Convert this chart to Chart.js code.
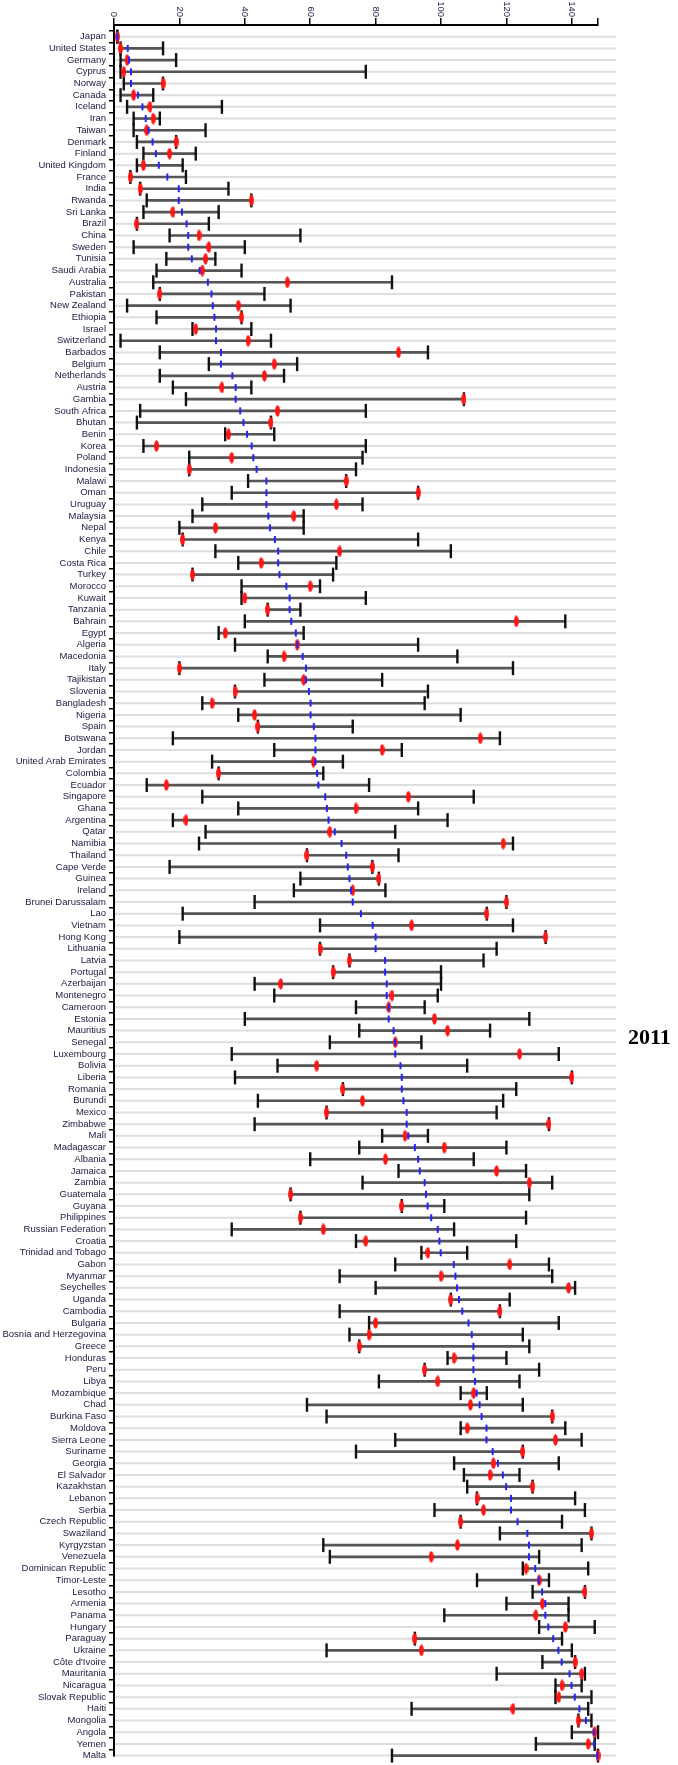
<!DOCTYPE html>
<html>
<head>
<meta charset="utf-8">
<script src="https://cdn.jsdelivr.net/npm/chart.js@4"></script>
<style>
  html, body { margin: 0; padding: 0; background: #fff; }
  #wrap { position: relative; width: 678px; height: 1765px; }
</style>
</head>
<body>
<div id="wrap"><canvas id="rankChart"></canvas></div>
<script>
// negara, urut dari atas ke bawah
const countries = ['Japan','United States','Germany','Cyprus','Norway','Canada','Iceland','Iran','Taiwan','Denmark',
  'Finland','United Kingdom','France','India','Rwanda','Sri Lanka','Brazil','China','Sweden','Tunisia',
  'Saudi Arabia','Australia','Pakistan','New Zealand','Ethiopia','Israel','Switzerland','Barbados','Belgium','Netherlands',
  'Austria','Gambia','South Africa','Bhutan','Benin','Korea','Poland','Indonesia','Malawi','Oman',
  'Uruguay','Malaysia','Nepal','Kenya','Chile','Costa Rica','Turkey','Morocco','Kuwait','Tanzania',
  'Bahrain','Egypt','Algeria','Macedonia','Italy','Tajikistan','Slovenia','Bangladesh','Nigeria','Spain',
  'Botswana','Jordan','United Arab Emirates','Colombia','Ecuador','Singapore','Ghana','Argentina','Qatar','Namibia',
  'Thailand','Cape Verde','Guinea','Ireland','Brunei Darussalam','Lao','Vietnam','Hong Kong','Lithuania','Latvia',
  'Portugal','Azerbaijan','Montenegro','Cameroon','Estonia','Mauritius','Senegal','Luxembourg','Bolivia','Liberia',
  'Romania','Burundi','Mexico','Zimbabwe','Mali','Madagascar','Albania','Jamaica','Zambia','Guatemala',
  'Guyana','Philippines','Russian Federation','Croatia','Trinidad and Tobago','Gabon','Myanmar','Seychelles','Uganda','Cambodia',
  'Bulgaria','Bosnia and Herzegovina','Greece','Honduras','Peru','Libya','Mozambique','Chad','Burkina Faso','Moldova',
  'Sierra Leone','Suriname','Georgia','El Salvador','Kazakhstan','Lebanon','Serbia','Czech Republic','Swaziland','Kyrgyzstan',
  'Venezuela','Dominican Republic','Timor-Leste','Lesotho','Armenia','Panama','Hungary','Paraguay','Ukraine','C\u00f4te d\'Ivoire',
  'Mauritania','Nicaragua','Slovak Republic','Haiti','Mongolia','Angola','Yemen','Malta'];

// peringkat terbaik (ujung kiri)
const rankMin = [1,2,2,2,3,2,4,6,6,7, 9,7,5,8,10,9,7,17,6,16, 13,12,14,4,13,24,2,14,29,14,
  18,22,8,7,34,9,23,23,41,36, 27,24,20,21,31,38,24,39,39,47, 40,32,37,47,20,46,37,27,38,44,
  18,49,30,32,10,27,38,18,28,26, 59,17,57,55,43,21,63,20,63,72, 67,43,49,74,40,75,66,36,50,37,
  70,44,65,43,82,75,60,87,76,54, 88,57,36,74,94,86,69,80,103,69, 78,72,75,102,95,81,106,59,65,106,
  86,74,104,107,108,111,98,106,118,64, 66,125,111,128,120,101,130,92,65,131, 117,135,135,91,142,140,129,85];

// peringkat terburuk (ujung kanan)
const rankMax = [1,15,19,77,15,12,33,14,28,19, 25,21,22,35,42,32,29,57,40,31, 39,85,46,54,39,42,48,96,56,52,
  42,107,77,48,49,77,76,74,71,93, 76,58,58,93,103,68,67,63,77,57, 138,58,93,105,122,82,96,95,106,73,
  118,88,70,64,78,110,93,102,86,122, 87,79,81,83,120,114,122,132,117,113, 100,100,99,95,127,115,94,136,108,140,
  123,119,117,133,96,120,110,126,134,127, 101,126,104,123,108,133,134,141,121,118, 136,125,127,120,130,124,114,125,134,138,
  143,125,136,124,128,141,144,137,146,143, 130,145,133,144,139,139,147,137,140,141, 144,143,146,145,146,148,147,148];

// peringkat 2011 (merah)
const rank2011 = [1,2,4,3,15,6,11,12,10,19, 17,9,5,8,42,18,7,26,29,28, 27,53,14,38,39,25,41,87,49,46,
  33,107,50,48,35,13,36,23,71,93, 68,55,31,21,69,45,24,60,40,47, 123,34,56,52,20,58,37,30,43,44,
  112,82,61,32,16,90,74,22,66,119, 59,79,81,73,120,114,91,132,63,72, 67,51,85,84,98,102,86,124,62,140,
  70,76,65,133,89,101,83,117,127,54, 88,57,64,77,96,121,100,139,103,118, 80,78,75,104,95,99,110,109,134,108,
  135,125,116,115,128,111,113,106,146,105, 97,126,130,144,131,129,138,92,94,141, 143,137,136,122,142,147,145,148];

// rata-rata peringkat (biru)
const rankMean = [1,4.2,4.6,5.2,5.2,7.3,8.7,9.7,10.6,11.8, 12.8,13.7,16.3,19.8,19.8,20.8,22.2,22.7,22.7,23.8,
  26.2,28.7,29.8,30.2,30.7,31.2,31.2,32.7,32.7,36.2, 37.2,37.2,38.6,39.6,40.7,42.1,42.6,43.6,46.6,46.6,
  46.6,47.2,47.7,49.2,50.2,50.2,50.6,52.7,53.7,53.7, 54.2,55.6,56.1,57.7,58.7,58.7,59.6,60.1,60.1,61.1,
  61.6,61.6,61.6,62.1,62.5,64.6,65.1,65.6,67.5,69.6, 71,71.5,72,72.5,73,75.5,79.1,80,80,82.9,
  82.9,83.4,83.4,84,84,85.5,86,86,87.6,88, 88,88.5,89.5,89.5,90,92,93,93.5,95,95.4,
  95.9,97,99,99.5,99.9,103.9,104.4,104.9,105.5,106.5, 108.4,109.4,109.9,109.9,109.9,110.4,110.9,111.8,112.4,113.9,
  113.9,115.8,117.4,118.9,119.9,121.4,121.4,123.4,126.4,126.9, 126.9,128.8,129.9,130.9,131.9,131.9,132.8,134.3,135.9,136.9,
  139.3,139.9,140.9,142.3,144.3,146.8,146.8,147.8];

const xTicks = [0, 20, 40, 60, 80, 100, 120, 140];
const xMax = 148;
const yearLabel = '2011';

// titik elips merah
const redDot = document.createElement('canvas');
redDot.width = 5; redDot.height = 12;
(function () {
  const c = redDot.getContext('2d');
  c.fillStyle = '#ff1414';
  c.beginPath();
  c.ellipse(2.5, 6, 2.4, 5.8, 0, 0, Math.PI * 2);
  c.fill();
})();

const pts = arr => arr.map((v, i) => ({ x: v, y: countries[i] }));

// garis baris abu-abu + label sumbu x + tahun
const decor = {
  id: 'decor',
  beforeDatasetsDraw(chart) {
    const { ctx, chartArea, scales } = chart;
    ctx.save();
    ctx.strokeStyle = '#dedede';
    ctx.lineWidth = 2;
    countries.forEach((c, i) => {
      const y = scales.y.getPixelForValue(i + 1);
      ctx.beginPath();
      ctx.moveTo(chartArea.left + 1, y);
      ctx.lineTo(616, y);
      ctx.stroke();
    });
    ctx.restore();
  },
  afterDraw(chart) {
    const { ctx, scales } = chart;
    ctx.save();
    ctx.fillStyle = '#1a1a40';
    ctx.font = '9.5px "Liberation Sans", Arial, sans-serif';
    ctx.textAlign = 'right';
    ctx.textBaseline = 'middle';
    xTicks.forEach(v => {
      const x = scales.x.getPixelForValue(v);
      ctx.save();
      ctx.translate(x, 17);
      ctx.rotate(Math.PI / 2);
      ctx.fillText(String(v), 0, 0);
      ctx.restore();
    });
    ctx.fillStyle = '#000';
    ctx.font = 'bold 22px "Liberation Serif", "Times New Roman", serif';
    ctx.textAlign = 'left';
    ctx.textBaseline = 'alphabetic';
    ctx.fillText(yearLabel, 628, 1044);
    ctx.restore();
  }
};

const ctx = document.getElementById('rankChart').getContext('2d');

new Chart(ctx, {
  type: 'bar',
  data: {
    labels: [''].concat(countries),
    datasets: [
      {
        type: 'line', data: pts(rankMean), showLine: false, clip: false, order: 1,
        pointStyle: 'line', rotation: 90, radius: 3.5, borderWidth: 2, borderColor: '#2323ff'
      },
      {
        type: 'line', data: pts(rank2011), showLine: false, clip: false, order: 2,
        pointStyle: redDot, radius: 6
      },
      {
        type: 'line', data: pts(rankMin), showLine: false, clip: false, order: 3,
        pointStyle: 'line', rotation: 90, radius: 7, borderWidth: 2.4, borderColor: '#111'
      },
      {
        type: 'line', data: pts(rankMax), showLine: false, clip: false, order: 3,
        pointStyle: 'line', rotation: 90, radius: 7, borderWidth: 2.4, borderColor: '#111'
      },
      {
        type: 'bar', order: 5, clip: false,
        data: rankMin.map((m, i) => ({ x: [m, rankMax[i]], y: countries[i] })),
        backgroundColor: '#555', barThickness: 2
      }
    ]
  },
  options: {
    indexAxis: 'y',
    responsive: true,
    maintainAspectRatio: false,
    animation: false,
    devicePixelRatio: 1,
    layout: { padding: { left: 0, right: 80, top: 0, bottom: 9 } },
    scales: {
      x: {
        type: 'linear', position: 'top', min: 0, max: xMax,
        afterBuildTicks: s => { s.ticks = xTicks.concat([xMax]).map(v => ({ value: v })); },
        afterFit: s => { s.height = 25; },
        ticks: { display: false },
        grid: { drawOnChartArea: false, tickLength: 7, color: '#000', lineWidth: 1.5 },
        border: { color: '#000', width: 2 }
      },
      y: {
        type: 'category', offset: false,
        afterFit: s => { s.width = 114; },
        ticks: {
          autoSkip: false, padding: 3, color: '#1a1a40',
          font: { family: '"Liberation Sans", Arial, sans-serif', size: 9.5 }
        },
        grid: { drawOnChartArea: false, tickLength: 5, color: '#000', lineWidth: 1.5 },
        border: { color: '#000', width: 2 }
      }
    },
    plugins: {
      legend: { display: false },
      tooltip: { enabled: false }
    }
  },
  plugins: [decor]
});
</script>
</body>
</html>
